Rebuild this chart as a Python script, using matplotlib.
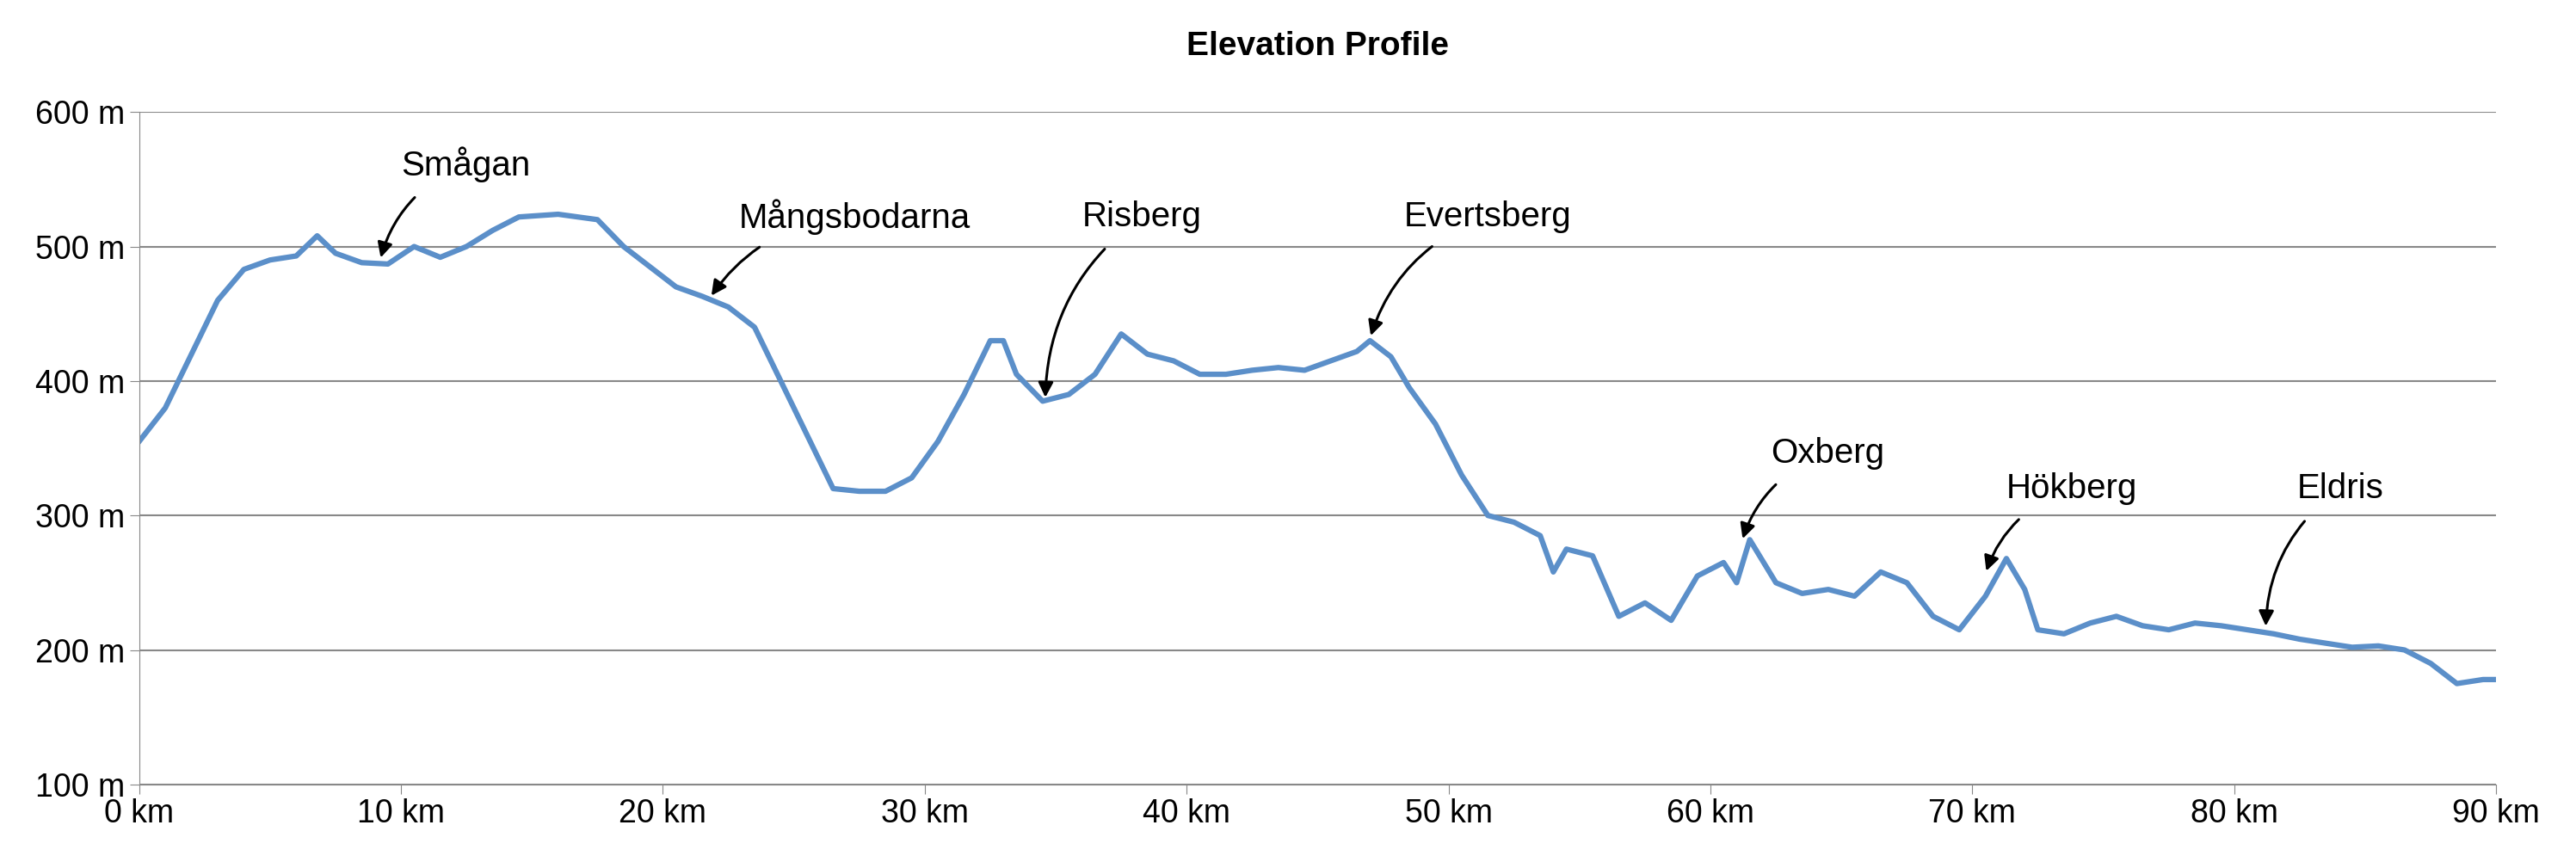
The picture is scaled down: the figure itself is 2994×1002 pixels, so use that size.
import matplotlib
matplotlib.use("Agg")
import matplotlib.pyplot as plt
from matplotlib.ticker import FuncFormatter

plt.rcParams['font.family'] = ['Liberation Sans', 'DejaVu Sans']

# distance along the route (km) and elevation (m)
dist_km = [0, 1, 2, 3, 4, 5, 6, 6.8, 7.5, 8.5, 9.5, 10.5, 11.5, 12.5, 13.5, 14.5, 16,
           17.5, 18.5, 19.5, 20.5, 21.5, 22.5, 23.5, 24.5, 25.5, 26.5, 27.5, 28.5,
           29.5, 30.5, 31.5, 32.5, 33, 33.5, 34.5, 35.5, 36.5, 37.5, 38.5, 39.5,
           40.5, 41.5, 42.5, 43.5, 44.5, 45.5, 46.5, 47, 47.8, 48.5, 49.5, 50.5,
           51.5, 52.5, 53.5, 54, 54.5, 55.5, 56.5, 57.5, 58.5, 59.5, 60.5, 61,
           61.5, 62.5, 63.5, 64.5, 65.5, 66.5, 67.5, 68.5, 69.5, 70.5, 71.3, 72,
           72.5, 73.5, 74.5, 75.5, 76.5, 77.5, 78.5, 79.5, 80.5, 81.5, 82.5, 83.5,
           84.5, 85.5, 86.5, 87.5, 88.5, 89.5, 90]
elev_m = [355, 380, 420, 460, 483, 490, 493, 508, 495, 488, 487, 500, 492, 500, 512,
          522, 524, 520, 500, 485, 470, 463, 455, 440, 400, 360, 320, 318, 318, 328,
          355, 390, 430, 430, 405, 385, 390, 405, 435, 420, 415, 405, 405, 408, 410,
          408, 415, 422, 430, 418, 395, 368, 330, 300, 295, 285, 258, 275, 270, 225,
          235, 222, 255, 265, 250, 282, 250, 242, 245, 240, 258, 250, 225, 215, 240,
          268, 245, 215, 212, 220, 225, 218, 215, 220, 218, 215, 212, 208, 205, 202,
          203, 200, 190, 175, 178, 178]

# checkpoints: name, text position, arrow target
places = ["Smågan", "Mångsbodarna", "Risberg", "Evertsberg", "Oxberg", "Hökberg", "Eldris"]
text_xy = [(10.0, 561), (22.9, 522), (36.0, 522), (48.3, 522), (62.3, 346), (71.3, 320), (82.4, 320)]
point_xy = [(9.2, 490), (21.8, 462), (34.6, 386), (47.0, 432), (61.2, 281), (70.5, 257), (81.2, 216)]

fig = plt.figure(figsize=(29.94, 10.02), dpi=100)
ax = fig.add_axes([0.054, 0.09, 0.915, 0.78])
ax.plot(dist_km, elev_m, color="#5b8fc9", linewidth=4.5)

for name, txt, pt in zip(places, text_xy, point_xy):
    ax.annotate(name, xy=pt, xytext=txt, fontsize=29, ha="left", va="center",
                arrowprops=dict(arrowstyle="-|>", color="black", lw=2.2,
                                mutation_scale=26, shrinkA=16, shrinkB=2,
                                connectionstyle="arc3,rad=0.25"))

ax.set_xlim(0, 90)
ax.set_ylim(100, 600)
ax.set_xticks(range(0, 91, 10))
ax.set_yticks(range(100, 601, 100))
ax.xaxis.set_major_formatter(FuncFormatter(lambda v, p: f"{v:.0f} km"))
ax.yaxis.set_major_formatter(FuncFormatter(lambda v, p: f"{v:.0f} m"))
ax.tick_params(labelsize=27, length=8, color="#888888")
ax.grid(axis="y", color="#888888", linewidth=1.5)
for side in ["top", "right"]:
    ax.spines[side].set_visible(False)
ax.spines["left"].set_color("#888888")
ax.spines["bottom"].set_color("#888888")
ax.set_title("Elevation Profile", fontsize=28, fontweight="bold", pad=48)

fig.savefig("out.png", dpi=100)
